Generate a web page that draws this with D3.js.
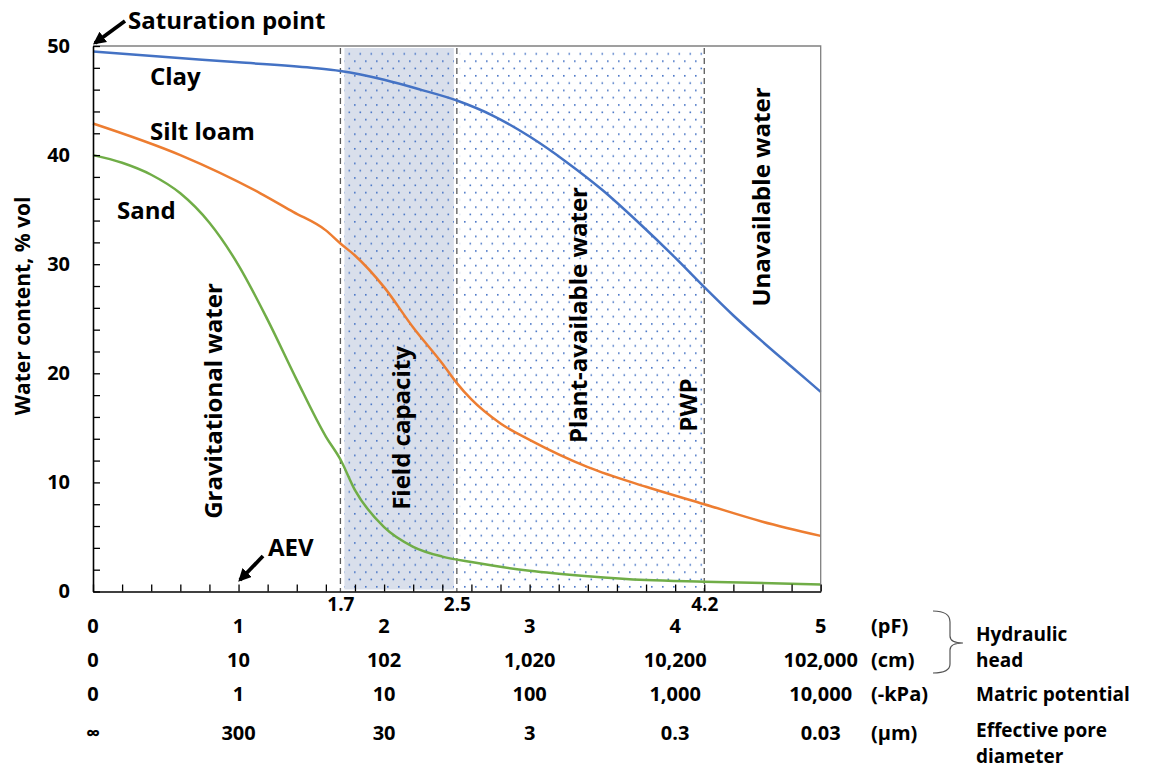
<!DOCTYPE html>
<html>
<head>
<meta charset="utf-8">
<script src="https://cdn.jsdelivr.net/npm/d3@7"></script>
<style>
  body { margin: 0; background: #fff; }
  svg text { font-family: "Open Sans", "Noto Sans", sans-serif; font-weight: 700; fill: #000; }
</style>
</head>
<body>
<svg id="chart" width="1149" height="769"></svg>
<script>
// water retention curves (pF vs % vol)
const clayPF   = [0, 0.5, 1, 1.5, 1.7, 2, 2.25, 2.5, 2.75, 3, 3.25, 3.5, 3.75, 4, 4.2, 4.4, 4.6, 4.8, 5];
const clayVals = [49.5, 49.0, 48.5, 48.0, 47.7, 46.9, 46.0, 45.0, 43.6, 41.7, 39.4, 36.8, 33.8, 30.6, 27.9, 25.3, 22.9, 20.6, 18.3];

const siltPF   = [0, 0.6, 1.15, 1.375, 1.6, 1.7, 1.8, 2, 2.2, 2.4, 2.5, 2.6, 2.8, 3, 3.4, 3.8, 4.2, 4.6, 5];
const siltVals = [42.9, 40.0, 36.5, 34.8, 33.1, 31.9, 30.8, 27.9, 24.2, 20.9, 19.1, 17.6, 15.4, 13.9, 11.4, 9.6, 8.0, 6.4, 5.1];

const sandPF   = [0, 0.2, 0.4, 0.6, 0.8, 1, 1.2, 1.4, 1.6, 1.7, 1.8, 2, 2.2, 2.4, 2.6, 3, 3.4, 3.8, 4.2, 5];
const sandVals = [40, 39.3, 38.2, 36.5, 33.8, 29.9, 24.9, 19.4, 14.2, 12.1, 9.3, 5.9, 4.1, 3.2, 2.7, 1.9, 1.4, 1.05, 0.9, 0.65];

const seriesNames  = ["Clay", "Silt loam", "Sand"];
const seriesColors = ["#4472C4", "#ED7D31", "#70AD47"];

// zones on the pF axis
const fieldCapacity = [1.7, 2.5];
const plantAvailable = [2.5, 4.2];
const markerPF = [1.7, 2.5, 4.2];

// the stacked scale rows under the x axis
const pfTicks    = [0, 1, 2, 3, 4, 5];
const pfLabels   = ["0", "1", "2", "3", "4", "5"];
const cmLabels   = ["0", "10", "102", "1,020", "10,200", "102,000"];
const kpaLabels  = ["0", "1", "10", "100", "1,000", "10,000"];
const poreLabels = ["∞", "300", "30", "3", "0.3", "0.03"];
const unitLabels = ["(pF)", "(cm)", "(-kPa)", "(μm)"];

const yTicks = [0, 10, 20, 30, 40, 50];

const svg = d3.select("#chart");
const plotL = 93, plotR = 820.7, plotT = 46, plotB = 591.5;

const x = d3.scaleLinear().domain([0, 5]).range([plotL, plotR]);
const y = d3.scaleLinear().domain([0, 50]).range([plotB, plotT]);

// dotted fill pattern (staggered rows)
const defs = svg.append("defs");
const pat = defs.append("pattern")
  .attr("id", "dots")
  .attr("patternUnits", "userSpaceOnUse")
  .attr("width", 11).attr("height", 14.6);
pat.append("rect").attr("x", 2).attr("y", 2).attr("width", 1.6).attr("height", 1.6).attr("fill", "#4472C4");
pat.append("rect").attr("x", 7.5).attr("y", 9.3).attr("width", 1.6).attr("height", 1.6).attr("fill", "#4472C4");

const marker = defs.append("marker")
  .attr("id", "arrow")
  .attr("viewBox", "0 0 10 10")
  .attr("refX", 8).attr("refY", 5)
  .attr("markerWidth", 3.4).attr("markerHeight", 3.4)
  .attr("orient", "auto");
marker.append("path").attr("d", "M0,0 L10,5 L0,10 z").attr("fill", "#000");

// shaded zones
svg.append("rect")
  .attr("x", x(fieldCapacity[0]) + 4).attr("y", plotT + 2)
  .attr("width", x(fieldCapacity[1]) - x(fieldCapacity[0]) - 7)
  .attr("height", plotB - plotT - 4)
  .attr("fill", "#D9DFEB");
svg.append("rect")
  .attr("x", x(fieldCapacity[0]) + 4).attr("y", plotT + 2)
  .attr("width", x(fieldCapacity[1]) - x(fieldCapacity[0]) - 7)
  .attr("height", plotB - plotT - 4)
  .attr("fill", "url(#dots)");
svg.append("rect")
  .attr("x", x(plantAvailable[0]) + 3).attr("y", plotT + 2)
  .attr("width", x(plantAvailable[1]) - x(plantAvailable[0]) - 4)
  .attr("height", plotB - plotT - 4)
  .attr("fill", "url(#dots)");

// dashed boundaries
svg.selectAll(".vline")
  .data(markerPF)
  .enter()
  .append("line")
  .attr("x1", d => x(d)).attr("x2", d => x(d))
  .attr("y1", plotT + 2).attr("y2", plotB)
  .attr("stroke", "#595959")
  .attr("stroke-width", 1.3)
  .attr("stroke-dasharray", "6,4");

// curves
const line = d3.line()
  .x(d => x(d[0]))
  .y(d => y(d[1]))
  .curve(d3.curveMonotoneX);

const series = [
  d3.zip(clayPF, clayVals),
  d3.zip(siltPF, siltVals),
  d3.zip(sandPF, sandVals)
];
svg.selectAll(".curve")
  .data(series)
  .enter()
  .append("path")
  .attr("d", line)
  .attr("fill", "none")
  .attr("stroke", (d, i) => seriesColors[i])
  .attr("stroke-width", 2.5);

// frame: top + right in grey
svg.append("path")
  .attr("d", `M${plotL},${plotT}H${plotR}V${plotB}`)
  .attr("fill", "none")
  .attr("stroke", "#808080")
  .attr("stroke-width", 1.3);

// y axis, ticks every 2 pointing inward
const yAxis = svg.append("g")
  .attr("transform", `translate(${plotL},0)`)
  .call(d3.axisLeft(y)
    .tickValues(d3.range(0, 51, 2))
    .tickSizeInner(-7).tickSizeOuter(0)
    .tickPadding(23)
    .tickFormat(d => yTicks.includes(d) ? d : ""));
yAxis.select(".domain").attr("stroke", "#000").attr("stroke-width", 1.6);
yAxis.selectAll(".tick line").attr("stroke", "#000").attr("stroke-width", 1.3);
yAxis.selectAll("text").style("font-size", "20px").attr("fill", "#000");

// x axis, ticks every 0.2 pointing up
const xAxis = svg.append("g")
  .attr("transform", `translate(0,${plotB})`)
  .call(d3.axisBottom(x)
    .tickValues(d3.range(0, 26).map(i => i * 0.2))
    .tickSizeInner(-7).tickSizeOuter(0)
    .tickFormat(""));
xAxis.select(".domain").attr("stroke", "#000").attr("stroke-width", 1.6);
xAxis.selectAll(".tick line").attr("stroke", "#000").attr("stroke-width", 1.3);

// zone boundary labels
const zoneAxis = svg.append("g")
  .attr("transform", `translate(0,${plotB})`)
  .call(d3.axisBottom(x).tickValues(markerPF).tickSize(0).tickPadding(6).tickFormat(d3.format(".1f")));
zoneAxis.select(".domain").remove();
zoneAxis.selectAll("text").style("font-size", "19px").attr("fill", "#000");

// scale rows
const rows = [
  { labels: pfLabels, y: 633 },
  { labels: cmLabels, y: 667 },
  { labels: kpaLabels, y: 701 },
  { labels: poreLabels, y: 740 }
];
rows.forEach((row, r) => {
  svg.append("g").selectAll("text")
    .data(pfTicks)
    .enter()
    .append("text")
    .attr("x", d => x(d))
    .attr("y", row.y)
    .attr("text-anchor", "middle")
    .style("font-size", "20px")
    .text((d, i) => row.labels[i]);
  svg.append("text")
    .attr("x", 871).attr("y", row.y)
    .style("font-size", "20px")
    .text(unitLabels[r]);
});

// right-hand names
const sideNames = [
  { t: "Hydraulic", y: 641 },
  { t: "head", y: 667 },
  { t: "Matric potential", y: 701 },
  { t: "Effective pore", y: 737 },
  { t: "diameter", y: 763 }
];
svg.selectAll(".side")
  .data(sideNames)
  .enter()
  .append("text")
  .attr("x", 976)
  .attr("y", d => d.y)
  .style("font-size", "19px")
  .text(d => d.t);

// brace
svg.append("path")
  .attr("d", "M933,611 Q950,611 950,622 L950,636 Q950,643 963,643 Q950,643 950,650 L950,664 Q950,673 933,673")
  .attr("fill", "none")
  .attr("stroke", "#555")
  .attr("stroke-width", 1.2);

// series labels
const seriesLabelPos = [[150, 85], [150, 140], [117, 219]];
svg.selectAll(".slabel")
  .data(seriesNames)
  .enter()
  .append("text")
  .attr("x", (d, i) => seriesLabelPos[i][0])
  .attr("y", (d, i) => seriesLabelPos[i][1])
  .style("font-size", "24px")
  .text(d => d);

// rotated zone labels
const vLabels = [
  { t: "Gravitational water", x: 214, y: 401, s: 24 },
  { t: "Field capacity", x: 402, y: 428, s: 24 },
  { t: "Plant-available water", x: 579, y: 315, s: 24 },
  { t: "PWP", x: 689, y: 405, s: 24 },
  { t: "Unavailable water", x: 762, y: 197, s: 24 },
  { t: "Water content, % vol", x: 23, y: 306, s: 21 }
];
svg.selectAll(".vlabel")
  .data(vLabels)
  .enter()
  .append("text")
  .attr("transform", d => `translate(${d.x},${d.y}) rotate(-90)`)
  .attr("text-anchor", "middle")
  .attr("dy", "0.35em")
  .style("font-size", d => d.s + "px")
  .text(d => d.t);

// annotations with arrows
svg.append("text").attr("x", 128).attr("y", 29).style("font-size", "24px").text("Saturation point");
svg.append("line")
  .attr("x1", 125).attr("y1", 21).attr("x2", 95).attr("y2", 43)
  .attr("stroke", "#000").attr("stroke-width", 3.8)
  .attr("marker-end", "url(#arrow)");

svg.append("text").attr("x", 268).attr("y", 556).style("font-size", "24px").text("AEV");
svg.append("line")
  .attr("x1", 263).attr("y1", 556).attr("x2", 240).attr("y2", 580)
  .attr("stroke", "#000").attr("stroke-width", 3.8)
  .attr("marker-end", "url(#arrow)");
</script>
</body>
</html>
